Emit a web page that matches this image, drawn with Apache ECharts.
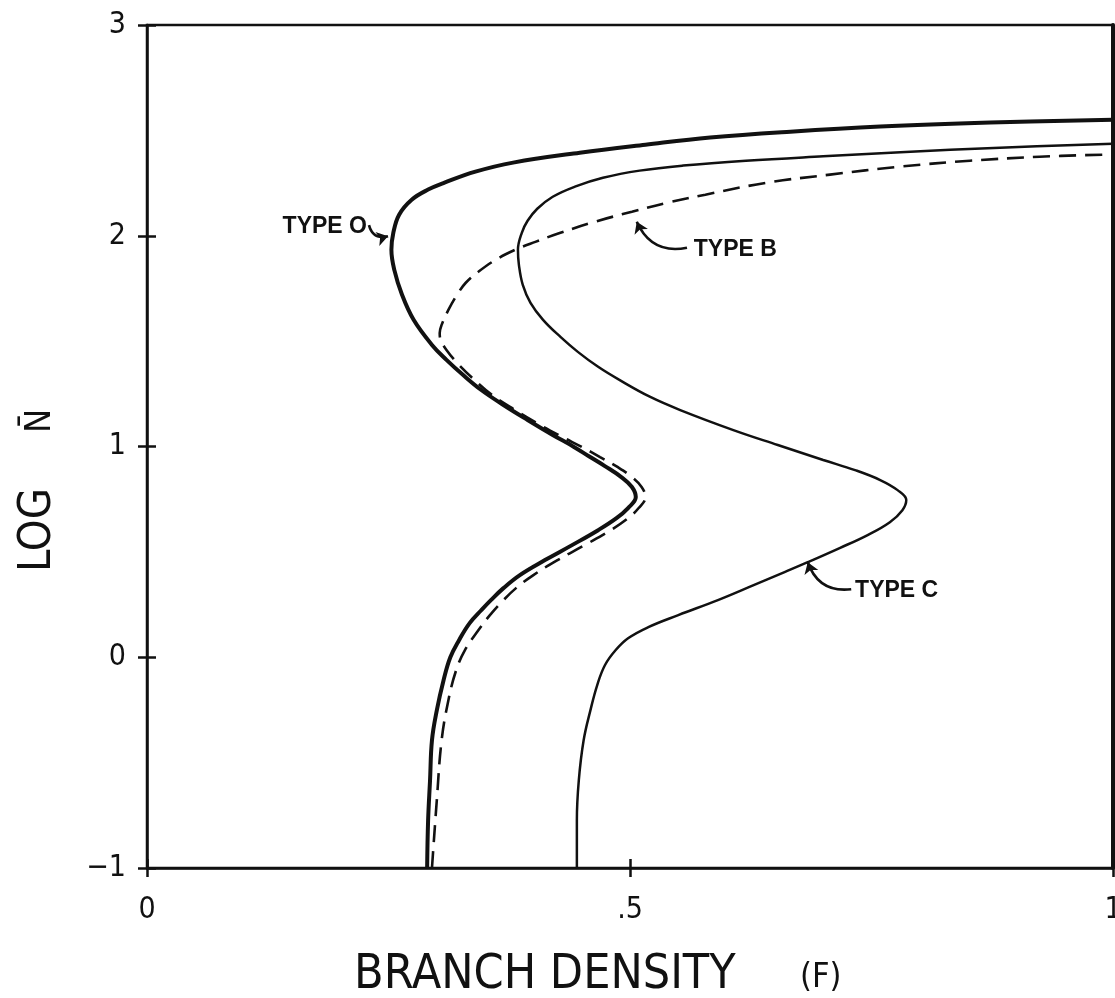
<!DOCTYPE html>
<html><head><meta charset="utf-8">
<script src="https://cdn.jsdelivr.net/npm/echarts@6/dist/echarts.min.js"></script>
<style>html,body{margin:0;padding:0;background:#fff}#c{width:1115px;height:998px}</style>
</head><body><div id="c"></div>
<script>
// Tick values and labels
const xTickValues = [0, 0.5, 1];
const xTickLabels = ['0', '.5', '1'];
const yTickValues = [-1, 0, 1, 2, 3];
const yTickLabels = ['\u22121', '0', '1', '2', '3'];

// Curves: [branch density F, log N]
const typeO = [[0.290,-1.0],[0.291,-0.774],[0.293,-0.584],[0.295,-0.394],[0.300,-0.252],[0.307,-0.109],[0.314,0],[0.323,0.081],[0.334,0.162],[0.346,0.223],[0.356,0.271],[0.369,0.328],[0.386,0.390],[0.412,0.461],[0.440,0.532],[0.467,0.603],[0.486,0.660],[0.498,0.708],[0.506,0.760],[0.502,0.808],[0.491,0.855],[0.474,0.907],[0.457,0.955],[0.442,0.998],[0.420,1.055],[0.394,1.126],[0.369,1.197],[0.346,1.268],[0.327,1.340],[0.310,1.411],[0.295,1.482],[0.276,1.601],[0.264,1.720],[0.256,1.838],[0.253,1.933],[0.255,2.014],[0.261,2.100],[0.274,2.171],[0.291,2.219],[0.308,2.252],[0.340,2.304],[0.379,2.347],[0.448,2.394],[0.516,2.432],[0.583,2.466],[0.666,2.494],[0.759,2.518],[0.873,2.537],[1.0,2.551]];
const typeB = [[0.295,-1.0],[0.300,-0.679],[0.305,-0.394],[0.312,-0.204],[0.320,-0.062],[0.329,0.033],[0.343,0.128],[0.355,0.200],[0.369,0.271],[0.382,0.328],[0.400,0.390],[0.425,0.461],[0.453,0.532],[0.480,0.603],[0.498,0.660],[0.509,0.708],[0.516,0.760],[0.512,0.808],[0.502,0.855],[0.487,0.903],[0.469,0.950],[0.450,0.998],[0.430,1.045],[0.407,1.102],[0.381,1.173],[0.357,1.245],[0.339,1.316],[0.323,1.387],[0.310,1.458],[0.304,1.506],[0.303,1.539],[0.305,1.577],[0.312,1.648],[0.321,1.720],[0.330,1.777],[0.343,1.829],[0.361,1.886],[0.381,1.933],[0.402,1.971],[0.428,2.014],[0.464,2.067],[0.502,2.114],[0.539,2.157],[0.578,2.195],[0.642,2.252],[0.707,2.290],[0.780,2.328],[0.852,2.356],[0.924,2.375],[0.992,2.385]];
const typeC = [[0.445,-1.0],[0.445,-0.774],[0.447,-0.584],[0.452,-0.394],[0.459,-0.252],[0.466,-0.133],[0.474,-0.038],[0.485,0.033],[0.498,0.090],[0.519,0.143],[0.550,0.200],[0.591,0.271],[0.628,0.342],[0.660,0.404],[0.684,0.451],[0.717,0.518],[0.746,0.580],[0.769,0.641],[0.782,0.698],[0.786,0.746],[0.777,0.793],[0.759,0.841],[0.733,0.888],[0.700,0.936],[0.653,1.007],[0.607,1.078],[0.552,1.173],[0.521,1.235],[0.489,1.316],[0.467,1.378],[0.446,1.449],[0.428,1.520],[0.410,1.601],[0.397,1.682],[0.389,1.767],[0.385,1.862],[0.384,1.933],[0.388,2.014],[0.394,2.071],[0.404,2.128],[0.420,2.185],[0.443,2.233],[0.472,2.275],[0.510,2.309],[0.555,2.333],[0.620,2.356],[0.700,2.377],[0.780,2.396],[0.883,2.418],[1.0,2.437]];

// Annotation labels and arrows (data coordinates)
const curveLabels = [
  {name: 'TYPE O', value: [0.2277, 2.043], pos: 'left'},
  {name: 'TYPE B', value: [0.566, 1.933], pos: 'right'},
  {name: 'TYPE C', value: [0.733, 0.318], pos: 'right'}
];
const arrows = [
  {coords: [[0.2298, 2.050], [0.2495, 1.998]], curv: -0.5},
  {coords: [[0.559, 1.943], [0.507, 2.066]], curv: 0.4},
  {coords: [[0.729, 0.323], [0.684, 0.451]], curv: 0.4}
];

const tickFont = {fontFamily: '"DejaVu Sans Condensed","DejaVu Sans",sans-serif', fontSize: 30, color: '#111'};
const chart = echarts.init(document.getElementById('c'));
const lookup = (vals, labs) => v => { const i = vals.findIndex(t => Math.abs(t - v) < 1e-9); return i >= 0 ? labs[i] : ''; };

chart.setOption({
  backgroundColor: '#fff',
  animation: false,
  grid: {left: 147, top: 25, right: 2, bottom: 130, outerBoundsMode: 'none', containLabel: false,
         show: true, borderColor: '#111', borderWidth: 2.5, backgroundColor: 'transparent'},
  xAxis: [
    {type: 'value', min: 0, max: 1, interval: 0.5, position: 'bottom',
     axisLine: {show: true, onZero: false, lineStyle: {color: '#111', width: 2.5}},
     axisTick: {show: true, inside: false, length: 9, lineStyle: {color: '#111', width: 2.5}},
     axisLabel: {show: true, margin: 27, formatter: lookup(xTickValues, xTickLabels), ...tickFont},
     splitLine: {show: false}},
    {type: 'value', min: 0, max: 1, interval: 0.5, position: 'bottom',
     axisLine: {show: false, onZero: false},
     axisTick: {show: true, inside: true, length: 9, lineStyle: {color: '#111', width: 2.5}},
     axisLabel: {show: false}, splitLine: {show: false}}
  ],
  yAxis: [
    {type: 'value', min: -1, max: 3, interval: 1, position: 'left',
     axisLine: {show: true, onZero: false, lineStyle: {color: '#111', width: 2.5}},
     axisTick: {show: true, inside: false, length: 9, lineStyle: {color: '#111', width: 2.5}},
     axisLabel: {show: true, margin: 21, formatter: lookup(yTickValues, yTickLabels), ...tickFont},
     splitLine: {show: false}},
    {type: 'value', min: -1, max: 3, interval: 1, position: 'left',
     axisLine: {show: false, onZero: false},
     axisTick: {show: true, inside: true, length: 9, lineStyle: {color: '#111', width: 2.5}},
     axisLabel: {show: false}, splitLine: {show: false}},
    {type: 'value', min: -1, max: 3, interval: 1, position: 'right',
     axisLine: {show: true, onZero: false, lineStyle: {color: '#111', width: 4}},
     axisTick: {show: false}, axisLabel: {show: false}, splitLine: {show: false}}
  ],
  series: [
    {name: 'TYPE O', type: 'line', data: typeO, smooth: 0.4, showSymbol: false, symbol: 'none',
     lineStyle: {color: '#111', width: 4}, clip: true},
    {name: 'TYPE B', type: 'line', data: typeB, smooth: 0.4, showSymbol: false, symbol: 'none',
     lineStyle: {color: '#111', width: 2.6, type: [17, 9]}, clip: true},
    {name: 'TYPE C', type: 'line', data: typeC, smooth: 0.4, showSymbol: false, symbol: 'none',
     lineStyle: {color: '#111', width: 2.5}, clip: true},
    {type: 'scatter', symbolSize: 0, silent: true, itemStyle: {opacity: 1},
     data: curveLabels.map(d => ({name: d.name, value: d.value,
       label: {show: true, position: d.pos, distance: 0, formatter: d.name,
         fontFamily: '"Liberation Sans",Arial,sans-serif', fontWeight: 'bold', fontSize: 23, color: '#111'}}))},
    {type: 'lines', coordinateSystem: 'cartesian2d', silent: true, polyline: false,
     symbol: ['none', 'arrow'], symbolSize: 11,
     data: arrows.map(a => ({coords: a.coords, lineStyle: {curveness: a.curv}})),
     lineStyle: {color: '#111', width: 2.6, opacity: 1}}
  ],
  graphic: [
    {type: 'text', left: 354, top: 952,
     style: {text: 'BRANCH DENSITY', fontFamily: '"DejaVu Sans Condensed","DejaVu Sans",sans-serif', fontSize: 48, fill: '#111'}},
    {type: 'text', left: 800, top: 961,
     style: {text: '(F)', fontFamily: '"DejaVu Sans Condensed","DejaVu Sans",sans-serif', fontSize: 34, fill: '#111'}},
    {type: 'text', x: 38, y: 530, rotation: Math.PI / 2,
     style: {text: 'LOG', align: 'center', verticalAlign: 'middle',
       fontFamily: '"DejaVu Sans Condensed","DejaVu Sans",sans-serif', fontSize: 45, fill: '#111'}},
    {type: 'text', x: 41, y: 421, rotation: Math.PI / 2,
     style: {text: 'N\u0304', align: 'center', verticalAlign: 'middle',
       fontFamily: '"DejaVu Sans Condensed","DejaVu Sans",sans-serif', fontSize: 36, fill: '#111'}}
  ]
});
</script></body></html>
